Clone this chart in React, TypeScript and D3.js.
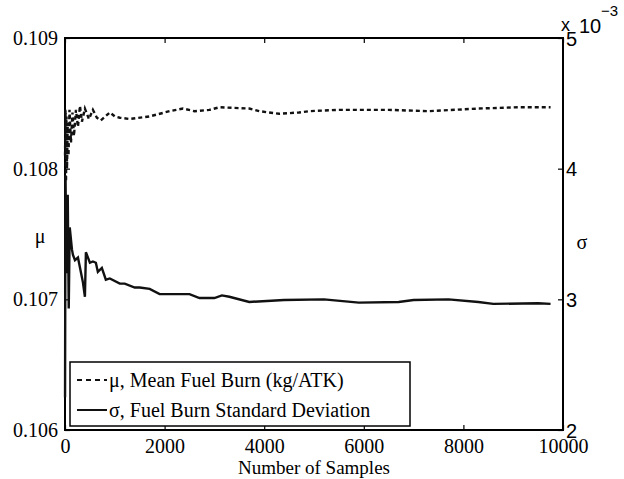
import React, { useEffect, useRef } from "react";
import * as d3 from "d3";

// axis ticks
const sampleTicks = [0, 2000, 4000, 6000, 8000, 10000];
const muTicks = [0.106, 0.107, 0.108, 0.109];
const sigmaTicks = [2, 3, 4, 5];

// running mean of fuel burn (kg/ATK) vs number of samples
const muSamples = [1, 10, 20, 30, 40, 55, 70, 90, 120, 150, 180, 220, 260, 300, 340, 400, 480, 560, 640, 720, 900, 1000, 1100, 1300, 1700, 2100, 2370, 2600, 2900, 3100, 3700, 3900, 4300, 4700, 4900, 5500, 6500, 7300, 8300, 9100, 9750];
const muValues = [0.1081, 0.10845, 0.1079, 0.1084, 0.108, 0.10835, 0.1081, 0.10845, 0.1082, 0.10843, 0.10825, 0.10845, 0.10832, 0.10848, 0.10836, 0.10846, 0.10838, 0.10845, 0.10839, 0.10837, 0.10843, 0.1084, 0.10839, 0.10838, 0.1084, 0.10844, 0.10846, 0.10844, 0.10845, 0.10847, 0.10846, 0.10844, 0.10842, 0.10843, 0.10844, 0.10845, 0.10845, 0.10844, 0.10846, 0.10847, 0.10847];

// running standard deviation (x 10^-3)
const sigmaSamples = [1, 10, 30, 55, 75, 95, 140, 160, 200, 260, 360, 400, 420, 500, 560, 620, 660, 740, 820, 900, 1100, 1200, 1400, 1500, 1700, 1900, 2200, 2500, 2700, 3000, 3150, 3300, 3700, 4400, 5200, 5900, 6700, 7000, 7700, 8300, 8600, 9500, 9750];
const sigmaValues = [2.25, 3.95, 3.2, 3.8, 2.93, 3.55, 3.38, 3.34, 3.3, 3.32, 3.13, 3.02, 3.36, 3.28, 3.29, 3.28, 3.21, 3.24, 3.15, 3.16, 3.12, 3.12, 3.09, 3.09, 3.08, 3.04, 3.04, 3.04, 3.01, 3.01, 3.03, 3.02, 2.98, 2.995, 3.0, 2.975, 2.98, 2.995, 3.0, 2.98, 2.965, 2.97, 2.965];

const legendLabels = ["\u03bc, Mean Fuel Burn (kg/ATK)", "\u03c3, Fuel Burn Standard Deviation"];

const serif = "'Liberation Serif', 'Times New Roman', Tinos, 'DejaVu Serif', serif";
const sans = "'Liberation Sans', Arial, Helvetica, sans-serif";

const App = () => {
  const svgRef = useRef<SVGSVGElement>(null);

  useEffect(() => {
    const width = 624;
    const height = 479;
    const margin = { top: 38, right: 61, bottom: 49, left: 65 };
    const innerWidth = width - margin.left - margin.right;
    const innerHeight = height - margin.top - margin.bottom;

    const svg = d3.select(svgRef.current).attr("width", width).attr("height", height);
    svg.selectAll("*").remove();

    const g = svg.append("g").attr("transform", `translate(${margin.left},${margin.top})`);

    const xScale = d3.scaleLinear().domain([0, 10000]).range([0, innerWidth]);
    const muScale = d3.scaleLinear().domain([0.106, 0.109]).range([innerHeight, 0]);
    const sigmaScale = d3.scaleLinear().domain([2, 5]).range([innerHeight, 0]);

    const styleAxis = (sel, font) => {
      sel.attr("font-family", null).attr("font-size", null);
      sel.select(".domain").remove();
      sel.selectAll(".tick line").attr("stroke", "#000").attr("stroke-width", 1.2);
      sel.selectAll("text").attr("fill", "#000").style("font-family", font).style("font-size", "20px");
    };

    // bottom axis
    g.append("g")
      .attr("transform", `translate(0,${innerHeight})`)
      .call(d3.axisBottom(xScale).tickValues(sampleTicks).tickSize(-5).tickPadding(9).tickFormat(d3.format("d")))
      .call((s) => styleAxis(s, serif));

    // top axis (ticks only)
    g.append("g")
      .call(d3.axisTop(xScale).tickValues(sampleTicks).tickSize(-5).tickFormat(() => ""))
      .call((s) => styleAxis(s, serif));

    // left axis - mean
    g.append("g")
      .call(d3.axisLeft(muScale).tickValues(muTicks).tickSize(-5).tickPadding(7).tickFormat(d3.format(".3f")))
      .call((s) => styleAxis(s, serif));

    // right axis - standard deviation
    g.append("g")
      .attr("transform", `translate(${innerWidth},0)`)
      .call(d3.axisRight(sigmaScale).tickValues(sigmaTicks).tickSize(-5).tickPadding(3).tickFormat(d3.format("d")))
      .call((s) => styleAxis(s, sans))
      .selectAll("text")
      .attr("dy", "0.36em");

    // box
    g.append("rect")
      .attr("width", innerWidth)
      .attr("height", innerHeight)
      .attr("fill", "none")
      .attr("stroke", "#000")
      .attr("stroke-width", 2);

    const muLine = d3
      .line<number>()
      .x((d, i) => xScale(muSamples[i]))
      .y((d) => muScale(d));
    const sigmaLine = d3
      .line<number>()
      .x((d, i) => xScale(sigmaSamples[i]))
      .y((d) => sigmaScale(d));

    g.append("path")
      .datum(muValues)
      .attr("d", muLine)
      .attr("fill", "none")
      .attr("stroke", "#111")
      .attr("stroke-width", 2.4)
      .attr("stroke-dasharray", "4,3");

    g.append("path")
      .datum(sigmaValues)
      .attr("d", sigmaLine)
      .attr("fill", "none")
      .attr("stroke", "#111")
      .attr("stroke-width", 2.4);

    const label = (x, y, text, font, size, anchor = "start") =>
      svg.append("text")
        .attr("x", x)
        .attr("y", y)
        .attr("text-anchor", anchor)
        .style("font-family", font)
        .style("font-size", `${size}px`)
        .text(text);

    // axis labels
    label(margin.left + innerWidth / 2, 474, "Number of Samples", serif, 19, "middle");
    label(40, 243, "\u03bc", serif, 20, "middle");
    label(582, 249, "\u03c3", serif, 20, "middle");

    // exponent
    label(561, 31, "x", sans, 18);
    label(579, 33, "10", sans, 20);
    label(601, 16, "\u22123", sans, 15);

    // legend
    const legend = svg.append("g");
    legend.append("rect")
      .attr("x", 70)
      .attr("y", 362)
      .attr("width", 340)
      .attr("height", 64)
      .attr("fill", "#fff")
      .attr("stroke", "#000")
      .attr("stroke-width", 1.5);

    legendLabels.forEach((text, i) => {
      const y = 380 + i * 30;
      legend.append("line")
        .attr("x1", 77)
        .attr("x2", 107)
        .attr("y1", y)
        .attr("y2", y)
        .attr("stroke", "#111")
        .attr("stroke-width", 2)
        .attr("stroke-dasharray", i === 0 ? "5,4" : null);
      label(109, y + 7, text, serif, 20);
    });
  }, []);

  return <svg ref={svgRef} style={{ position: "absolute", left: 0, top: 0 }}></svg>;
};

export default App;
